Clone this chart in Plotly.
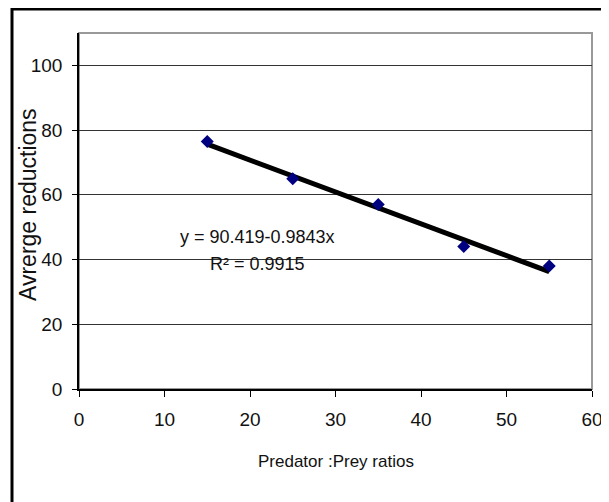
import plotly.graph_objects as go

ratios = [15, 25, 35, 45, 55]
reductions = [76.5, 65, 57, 44, 38]
intercept = 90.419
slope = -0.9843
r2 = 0.9915
x_ticks = [0, 10, 20, 30, 40, 50, 60]
y_ticks = [0, 20, 40, 60, 80, 100]
x_title = "Predator :Prey ratios"
y_title = "Avrerge reductions"

trend_x = [ratios[0], ratios[-1]]
trend_y = [intercept + slope * v for v in trend_x]

font_main = "Liberation Sans, Arial, sans-serif"

# plot-area geometry (figure pixels)
L, R, T, B = 71, 25, 25, 121
W = 609 - L - R
H = 502 - T - B

def px(x):
    return (x - L) / W

def py(y):
    return (502 - B - y) / H

fig = go.Figure()
fig.add_trace(go.Scatter(x=trend_x, y=trend_y, mode="lines",
                         line=dict(color="black", width=5), showlegend=False))
fig.add_trace(go.Scatter(x=ratios, y=reductions, mode="markers",
                         marker=dict(symbol="diamond", color="#000080", size=10),
                         showlegend=False))

fig.add_annotation(x=px(249), y=py(229), xref="paper", yref="paper",
                   xanchor="center", yanchor="middle",
                   text=f"y = {intercept}-{abs(slope)}x", showarrow=False,
                   font=dict(family=font_main, size=18, color="#111"))
fig.add_annotation(x=px(249), y=py(256), xref="paper", yref="paper",
                   xanchor="center", yanchor="middle",
                   text=f"R² = {r2}", showarrow=False,
                   font=dict(family=font_main, size=18, color="#111"))

# axis titles
fig.add_annotation(x=px(328), y=py(453), xref="paper", yref="paper",
                   xanchor="center", yanchor="middle", text=x_title, showarrow=False,
                   font=dict(family=font_main, size=17, color="#111"))
fig.add_annotation(x=px(20), y=py(197), xref="paper", yref="paper",
                   xanchor="center", yanchor="middle", text=y_title, showarrow=False,
                   textangle=-90,
                   font=dict(family=font_main, size=23, color="#111"))

fig.update_layout(
    width=609, height=502,
    margin=dict(l=L, r=R, t=T, b=B, autoexpand=False),
    paper_bgcolor="white", plot_bgcolor="white",
    xaxis=dict(range=[0, 60], tickvals=x_ticks, showgrid=False, zeroline=False,
               showline=True, linecolor="black", linewidth=1.5,
               ticks="outside", ticklen=6, tickcolor="black",
               ticklabelstandoff=6, automargin=False,
               tickfont=dict(family=font_main, size=19, color="#111")),
    yaxis=dict(range=[0, 110], tickvals=y_ticks, showgrid=True, gridcolor="#333",
               gridwidth=1, zeroline=False,
               showline=True, linecolor="black", linewidth=1.5,
               ticks="outside", ticklen=5, tickcolor="black",
               ticklabelstandoff=6, automargin=False,
               tickfont=dict(family=font_main, size=19, color="#111")),
)

# plot-area border (grey top/right)
fig.add_shape(type="rect", xref="paper", yref="paper", x0=0, x1=1, y0=0, y1=1,
              line=dict(color="#999", width=2), layer="below")

# outer frame
fig.add_shape(type="rect", xref="paper", yref="paper",
              x0=px(4), x1=px(615), y0=py(508), y1=py(1),
              line=dict(color="black", width=3))

fig.write_html("out.html")
